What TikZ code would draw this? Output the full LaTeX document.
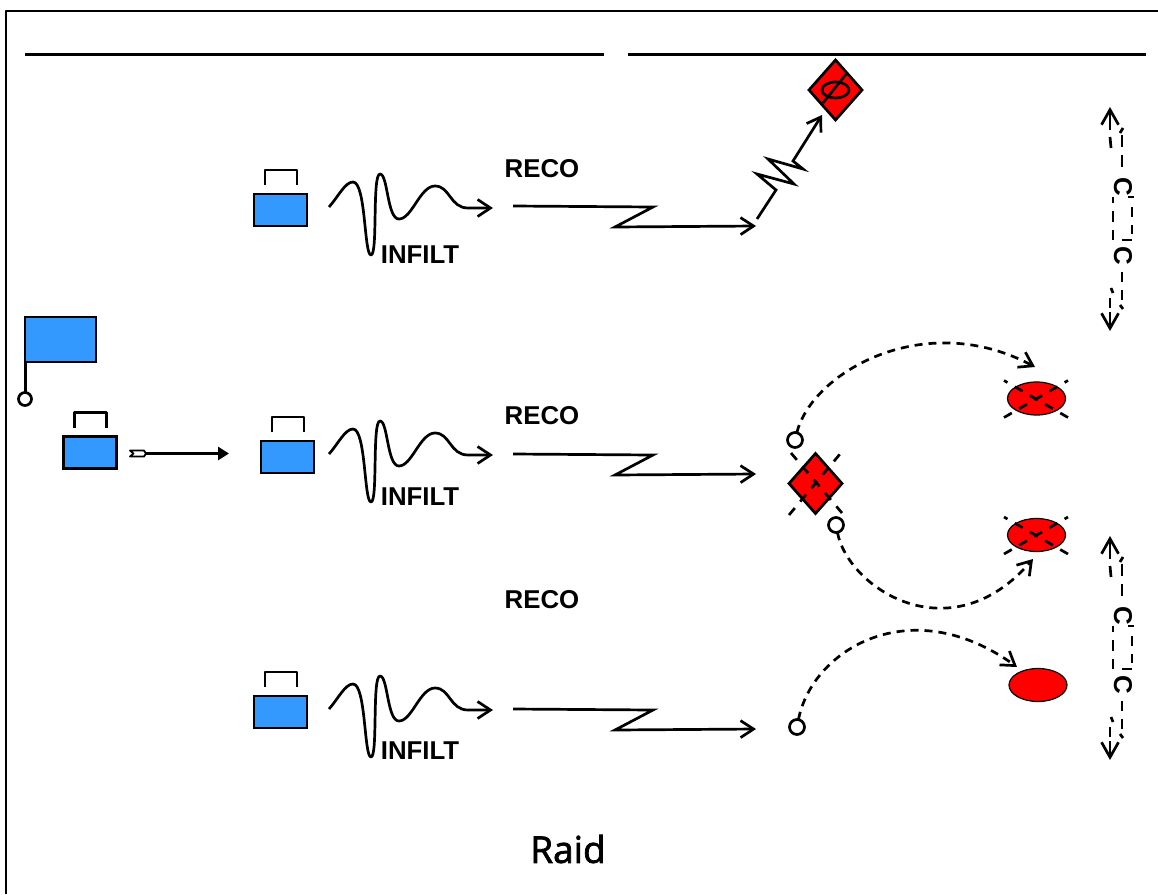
\documentclass[tikz,border=0pt]{standalone}
\usepackage{fontspec}
\setmainfont{Liberation Sans}
\newfontfamily\raidfont[FakeBold=2]{Open Sans}
\usetikzlibrary{arrows.meta,shapes.geometric}
\tikzset{
  ln/.style={line width=2.7pt,black,line cap=butt,line join=round},
  opena/.style={ln,-{Straight Barb[length=13pt,width=17pt,line width=2.7pt]}},
  dasha/.style={opena,dash pattern=on 8pt off 6pt},
  unitbox/.style={draw=black,line width=2.7pt,fill=myblue,rectangle,minimum width=53pt,minimum height=32pt,inner sep=0pt,outer sep=0pt},
  lab/.style={font=\bfseries\fontsize{25.8}{26}\selectfont,inner sep=0pt},
  ring/.style={circle,draw=black,line width=2.7pt,fill=white,minimum size=14pt,inner sep=0pt,outer sep=0pt},
  redell/.style={ellipse,draw=black,line width=1.2pt,fill=red,minimum width=58pt,minimum height=33pt,inner sep=0pt,outer sep=0pt},
  reddia/.style={diamond,draw=black,line width=2.7pt,fill=red,minimum width=53pt,minimum height=60pt,inner sep=0pt,outer sep=0pt},
  burst/.style={ln,dash pattern=on 9pt off 8.5pt}
}
\definecolor{myblue}{RGB}{51,153,255}
% unit box with handle: name, centre x, centre y
\newcommand{\unitsym}[3]{%
  \node[unitbox] (#1) at (#2,#3) {};
  \draw[ln,line join=round] ([xshift=-15.5pt,yshift=9pt]#1.north) -- ++(0,-15) -- ++(32,0) -- ++(0,15);
}
% infiltration wave: name, dy
\newcommand{\wavesym}[2]{%
  \begin{scope}[shift={(0,#2)}]
    \coordinate (#1s) at (329,207);
    \coordinate (#1e) at (493,208);
    \draw[opena] (#1s) .. controls (338,197) and (345,182) .. (353,182)
      .. controls (366,182) and (364,255) .. (371,255)
      .. controls (378,255) and (372,174) .. (380,174)
      .. controls (388,174) and (387,219) .. (399,219)
      .. controls (412,219) and (420,186) .. (435,186)
      .. controls (450,186) and (450,208) .. (468,208)
      -- (#1e);
  \end{scope}
}
% radio zigzag: name, dy
\newcommand{\zigsym}[2]{%
  \begin{scope}[shift={(0,#2)}]
    \coordinate (#1a) at (513,206);
    \coordinate (#1b) at (653,207);
    \coordinate (#1c) at (615,227);
    \coordinate (#1d) at (756,226);
    \draw[opena,line join=miter] (#1a) -- (#1b) -- (#1c) -- (#1d);
  \end{scope}
}
% control-measure glyph: name, dx, dy
\newcommand{\ctlsym}[3]{%
  \begin{scope}[shift={(#2,#3)}]
    \node[lab,rotate=-90] (#1t) at (1123,187) {C};
    \node[lab,rotate=-90] (#1b) at (1123,256) {C};
    \coordinate (#1u) at (1110,107);
    \coordinate (#1d) at (1110,331);
    \draw[ln,-{Straight Barb[length=15pt,width=17pt,line width=2.7pt]}] (1110,130) -- (#1u);
    \draw[ln] (1110,137) -- (1111,148);
    \draw[ln] (1120,133) -- (1123,128);
    \draw[ln] (1122,135) -- (1122,147);
    \draw[ln] (1122,155) -- (1122,167);
    \draw[ln] (1113,197) -- (1113,203);
    \draw[ln] (1113,211) -- (1113,222);
    \draw[ln] (1113,230) -- (1113,240);
    \draw[ln] (1128,197) -- (1134,197);
    \draw[ln] (1132,207) -- (1132,217);
    \draw[ln] (1132,225) -- (1132,234);
    \draw[ln] (1122,240) -- (1132,240);
    \draw[ln] (1122,272) -- (1122,282);
    \draw[ln] (1122,290) -- (1122,300);
    \draw[ln] (1120,305) -- (1123,309);
    \draw[ln] (1111,288) -- (1113,293);
    \draw[ln] (1110,298) -- (1110,308);
    \draw[ln,-{Straight Barb[length=15pt,width=17pt,line width=2.7pt]}] (1110,312) -- (#1d);
  \end{scope}
}
\begin{document}
\begin{tikzpicture}[x=1pt,y=-1pt]
\useasboundingbox (0,0) rectangle (1158,894);
\coordinate (fa) at (6,894);
\coordinate (fb) at (6,11);
\coordinate (fc) at (1158,11);
\draw[ln] (fa) -- (fb) -- (fc);
\coordinate (ta) at (25,54);
\coordinate (tb) at (604,54);
\coordinate (tc) at (628,54);
\coordinate (td) at (1146,54);
\draw[ln,line width=3pt] (ta) -- (tb);
\draw[ln,line width=3pt] (tc) -- (td);

% flag
\node[unitbox,minimum width=71pt,minimum height=45pt] (flag) at (60.5,339.5) {};
\node[ring,minimum size=13pt] (flagr) at (25,399) {};
\draw[ln,line width=3pt] (flag.south west) -- (flagr);

% left unit and movement arrow
\unitsym{u0}{90}{452.5}
\coordinate (ma) at (146,453.5);
\coordinate (mb) at (229,453.5);
\draw[ln,fill=white,line width=1.8pt] (130,450.5) -- (144,450.5) -- (ma) -- (144,456.5) -- (130,456.5) -- (133.5,453.5) -- cycle;
\draw[ln,-{Triangle[length=11pt,width=13pt]}] (ma) -- (mb);

% rows
\unitsym{u1}{280.5}{210}
\unitsym{u2}{287.5}{457}
\unitsym{u3}{280.5}{712}
\wavesym{w1}{0}
\wavesym{w2}{247}
\wavesym{w3}{502}
\zigsym{z1}{0}
\zigsym{z2}{248}
\zigsym{z3}{503}
\node[lab] (r1) at (542,168.5) {RECO};
\node[lab] (r2) at (542,415.5) {RECO};
\node[lab] (r3) at (542,599.5) {RECO};
\node[lab] (i1) at (420,254.5) {INFILT};
\node[lab] (i2) at (420,496.5) {INFILT};
\node[lab] (i3) at (420,750.5) {INFILT};

% top target
\node[reddia] (d1) at (835.5,90) {};
\node[ellipse,draw=black,line width=2.7pt,minimum width=27pt,minimum height=16pt,inner sep=0pt] (d1e) at (835.5,90) {};
\coordinate (d1a) at (823,103);
\coordinate (d1b) at (847,73);
\draw[ln] (d1a) -- (d1b);
\coordinate (k0) at (757,219);
\coordinate (k5) at (822,115);
\draw[opena,line join=miter] (k0) -- (776,190) -- (757,174) -- (794,184) -- (768,159) -- (803,169) -- (793,161) -- (k5);

% middle target
\node[reddia] (d2) at (815.5,483.5) {};
\draw[burst] (789,515) -- (840,454);
\draw[burst] (791,453) -- (842,513);

% enemy ellipses
\node[redell] (e1) at (1036.5,398.5) {};
\node[redell] (e2) at (1036.5,535) {};
\node[redell] (e3) at (1038,685) {};
\foreach \n/\yy in {a/398.5,b/535}{
  \draw[burst,dash phase=0pt] (1004,\yy+19) -- (1068,\yy-18);
  \draw[burst,dash phase=5pt] (1004,\yy-18) -- (1068,\yy+19);
}

% rings and dashed curves
\node[ring,minimum size=15pt] (c1) at (795,440) {};
\node[ring,minimum size=15pt] (c2) at (836,525) {};
\node[ring,minimum size=15pt] (c3) at (797,727) {};
\coordinate (h1) at (1035,367);
\coordinate (h2) at (1033,559);
\coordinate (h3) at (1017,667);
\draw[dasha] (c1) .. controls (812,372) and (925,308) .. (h1);
\draw[dasha] (c2) .. controls (848,588) and (950,655) .. (h2);
\draw[dasha] (c3) .. controls (812,650) and (910,590) .. (h3);

% control glyphs
\ctlsym{p}{0}{0}
\ctlsym{q}{0}{429}

\node[inner sep=0pt,font=\raidfont\fontsize{37}{37}\selectfont] (title) at (568,849) {Raid};
\end{tikzpicture}
\end{document}
